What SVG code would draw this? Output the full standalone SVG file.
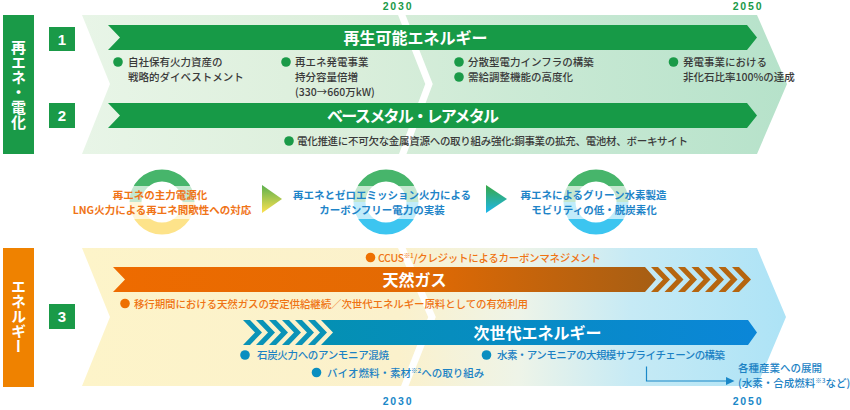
<svg xmlns="http://www.w3.org/2000/svg" width="850" height="410" viewBox="0 0 850 410">
<style>
text{font-family:"Noto Sans CJK JP","Noto Sans",sans-serif;}
.bt{fill:#fff;font-weight:700;font-size:16px;text-anchor:middle;}
.tx{fill:#3a3a3a;font-size:10.5px;font-weight:500;}
.otx{fill:#ef7414;font-size:10.5px;font-weight:500;}
.btx{fill:#1c82c4;font-size:10.5px;font-weight:500;}
.mo{fill:#f07418;font-size:10.5px;font-weight:700;text-anchor:middle;}
.mb{fill:#1e84c8;font-size:10.5px;font-weight:700;text-anchor:middle;}
.gd{fill:#1a9a48;}
.od{fill:#ee7000;}
.bd{fill:#0a8ec0;}
.yrg{fill:#1a9a48;font-family:"Liberation Sans",Arial,sans-serif;font-weight:700;font-size:10.5px;letter-spacing:1.8px;text-anchor:middle;}
.yrb{fill:#1a88c8;font-family:"Liberation Sans",Arial,sans-serif;font-weight:700;font-size:10.5px;letter-spacing:1.8px;text-anchor:middle;}
.num{fill:#fff;font-family:"Liberation Sans",Arial,sans-serif;font-weight:700;font-size:15px;text-anchor:middle;}
.vt{fill:#fff;font-weight:700;font-size:15px;writing-mode:vertical-rl;text-anchor:middle;}
.sep{fill:none;stroke:#fff;stroke-width:7;}
.band{fill:#fff;opacity:0.68;}
.sup{font-size:6.5px;}
</style>
<defs>
<linearGradient id="gTop" x1="0" y1="0" x2="1" y2="0">
<stop offset="0" stop-color="#e8f5e7"/><stop offset="0.35" stop-color="#dcefdc"/><stop offset="0.65" stop-color="#c9e9d4"/><stop offset="1" stop-color="#b6e2ca"/>
</linearGradient>
<linearGradient id="gBot" x1="0" y1="0" x2="1" y2="0">
<stop offset="0" stop-color="#fdf4c9"/><stop offset="0.45" stop-color="#fbf1cc"/><stop offset="0.62" stop-color="#eef4e8"/><stop offset="0.78" stop-color="#c6eaf5"/><stop offset="1" stop-color="#ade3f6"/>
</linearGradient>
<linearGradient id="gOr" gradientUnits="userSpaceOnUse" x1="113" y1="0" x2="657" y2="0">
<stop offset="0" stop-color="#ee6b00"/><stop offset="0.55" stop-color="#e36a03"/><stop offset="1" stop-color="#a65e14"/>
</linearGradient>
<linearGradient id="gBl" gradientUnits="userSpaceOnUse" x1="321" y1="0" x2="757" y2="0">
<stop offset="0" stop-color="#0490b3"/><stop offset="1" stop-color="#0b86d8"/>
</linearGradient>
<linearGradient id="rGY" x1="0" y1="0" x2="0" y2="1">
<stop offset="0.5" stop-color="#47b56b"/><stop offset="0.5" stop-color="#fde38a"/>
</linearGradient>
<linearGradient id="rGC" x1="0" y1="0" x2="0" y2="1">
<stop offset="0.5" stop-color="#47b56b"/><stop offset="0.5" stop-color="#3cc5f0"/>
</linearGradient>
<linearGradient id="tGY" x1="0" y1="0" x2="0" y2="1">
<stop offset="0" stop-color="#5bb04e"/><stop offset="1" stop-color="#fde150"/>
</linearGradient>
<linearGradient id="tGC" x1="0" y1="0" x2="0" y2="1">
<stop offset="0" stop-color="#38a846"/><stop offset="1" stop-color="#1db6ec"/>
</linearGradient>
</defs>

<g id="years">
<text class="yrg" x="398" y="9.5">2030</text>
<text class="yrg" x="748" y="9.5">2050</text>
<text class="yrb" x="398" y="404.5">2030</text>
<text class="yrb" x="748" y="405">2050</text>
</g>

<g id="section-renewable">
<rect x="3" y="15" width="31" height="139" fill="#1a9a48"/>
<text class="vt" x="18.5" y="84.5">再エネ・電化</text>
<polygon points="82,15 757,15 787,84 757,154 82,154 110,84" fill="url(#gTop)"/>
<polyline class="sep" points="401,13 429,84 402,156"/>
</g>

<g id="section-energy">
<rect x="3" y="248" width="31" height="139" fill="#ef8200"/>
<text class="vt" x="18.5" y="316">エネルギー</text>
<polygon points="82,248 757,248 786,317 757,386 82,386 110,317" fill="url(#gBot)"/>
<polyline class="sep" points="401,246 432,317 404,388"/>
</g>

<g id="num1"><rect x="49" y="27" width="26" height="24" fill="#1a9a48"/><text class="num" x="62" y="44.5">1</text></g>
<g id="num2"><rect x="49" y="103" width="26" height="25" fill="#1a9a48"/><text class="num" x="62" y="121">2</text></g>
<g id="num3"><rect x="49" y="304" width="26" height="25" fill="#1a9a48"/><text class="num" x="62" y="322">3</text></g>

<g id="bar-renewable">
<polygon points="108,25 747,25 757,37.5 747,50 108,50 120,37.5" fill="#179a47"/>
<text class="bt" x="415.5" y="43.6">再生可能エネルギー</text>
</g>
<g id="items-renewable">
<circle class="gd" cx="118" cy="62" r="4.8"/>
<text class="tx" x="128" y="66">自社保有火力資産の</text>
<text class="tx" x="128" y="81">戦略的ダイベストメント</text>
<circle class="gd" cx="286" cy="62" r="4.8"/>
<text class="tx" x="295" y="66">再エネ発電事業</text>
<text class="tx" x="295" y="81">持分容量倍増</text>
<text class="tx" x="295" y="95.5">(330→660万kW)</text>
<circle class="gd" cx="459" cy="62" r="4.8"/>
<text class="tx" x="468" y="66">分散型電力インフラの構築</text>
<circle class="gd" cx="459" cy="77" r="4.8"/>
<text class="tx" x="468" y="81">需給調整機能の高度化</text>
<circle class="gd" cx="673.5" cy="62" r="4.8"/>
<text class="tx" x="683" y="66">発電事業における</text>
<text class="tx" x="683" y="81">非化石比率100%の達成</text>
</g>

<g id="bar-metal">
<polygon points="108,103 747,103 757,115.5 747,128 108,128 120,115.5" fill="#179a47"/>
<text class="bt" x="413" y="121.6" textLength="172" lengthAdjust="spacing">ベースメタル・レアメタル</text>
<circle class="gd" cx="289" cy="141" r="4.8"/>
<text class="tx" x="297" y="145" textLength="391" lengthAdjust="spacing">電化推進に不可欠な金属資源への取り組み強化:銅事業の拡充、電池材、ボーキサイト</text>
</g>

<g id="phase1">
<circle cx="162" cy="202" r="26.5" fill="none" stroke="url(#rGY)" stroke-width="12"/>
<rect class="band" x="126" y="186" width="72" height="33"/>
<text class="mo" x="160" y="198.5">再エネの主力電源化</text>
<text class="mo" x="162" y="213.5">LNG火力による再エネ間歇性への対応</text>
</g>
<g id="phase2">
<circle cx="386" cy="202" r="26.5" fill="none" stroke="url(#rGC)" stroke-width="12"/>
<rect class="band" x="350" y="186" width="72" height="33"/>
<text class="mb" x="382" y="198.5">再エネとゼロエミッション火力による</text>
<text class="mb" x="382" y="213.5">カーボンフリー電力の実装</text>
</g>
<g id="phase3">
<circle cx="596" cy="202" r="26.5" fill="none" stroke="url(#rGC)" stroke-width="12"/>
<rect class="band" x="560" y="186" width="72" height="33"/>
<text class="mb" x="593.5" y="198.5">再エネによるグリーン水素製造</text>
<text class="mb" x="594" y="213.5">モビリティの低・脱炭素化</text>
</g>

<g id="bar-gas">
<polygon points="113,267 645,267 656,279.5 645,292 113,292 125,279.5" fill="url(#gOr)"/>
<g fill="#b5650f">
<polygon points="651,267 658,267 670,279.5 658,292 651,292 663,279.5"/>
<polygon points="664.5,267 671.5,267 683.5,279.5 671.5,292 664.5,292 676.5,279.5"/>
<polygon points="678,267 685,267 697,279.5 685,292 678,292 690,279.5"/>
<polygon points="691.5,267 698.5,267 710.5,279.5 698.5,292 691.5,292 703.5,279.5"/>
<polygon points="705,267 712,267 724,279.5 712,292 705,292 717,279.5"/>
<polygon points="718.5,267 725.5,267 737.5,279.5 725.5,292 718.5,292 730.5,279.5"/>
<polygon points="732,267 739,267 751,279.5 739,292 732,292 744,279.5"/>
</g>
<text class="bt" x="414.5" y="285.6">天然ガス</text>
</g>
<g id="items-gas">
<circle class="od" cx="370.5" cy="257.5" r="4.8"/>
<text class="otx" x="378" y="261.5" letter-spacing="-0.3">CCUS<tspan class="sup" dy="-4">※1</tspan><tspan dy="4">/クレジットによるカーボンマネジメント</tspan></text>
<circle class="od" cx="125" cy="303.5" r="4.8"/>
<text class="otx" x="134" y="307.5" textLength="394" lengthAdjust="spacing">移行期間における天然ガスの安定供給継続／次世代エネルギー原料としての有効利用</text>
</g>

<g id="bar-nextgen">
<g fill="#0a93b7">
<polygon points="243,320 250,320 262,332.5 250,345 243,345 255,332.5"/>
<polygon points="256,320 263,320 275,332.5 263,345 256,345 268,332.5"/>
<polygon points="269,320 276,320 288,332.5 276,345 269,345 281,332.5"/>
<polygon points="282,320 289,320 301,332.5 289,345 282,345 294,332.5"/>
<polygon points="295,320 302,320 314,332.5 302,345 295,345 307,332.5"/>
<polygon points="308,320 315,320 327,332.5 315,345 308,345 320,332.5"/>
</g>
<polygon points="321,320 748,320 757,332.5 748,345 321,345 333,332.5" fill="url(#gBl)"/>
<text class="bt" x="537.5" y="338.6">次世代エネルギー</text>
</g>
<g id="items-nextgen">
<circle class="bd" cx="245" cy="355" r="4.8"/>
<text class="btx" x="257" y="359" textLength="132" lengthAdjust="spacing">石炭火力へのアンモニア混焼</text>
<circle class="bd" cx="316.5" cy="372.5" r="4.8"/>
<text class="btx" x="327" y="376.5">バイオ燃料・素材<tspan class="sup" dy="-4">※2</tspan><tspan dy="4">への取り組み</tspan></text>
<circle class="bd" cx="486.5" cy="355" r="4.8"/>
<text class="btx" x="497" y="359" textLength="228" lengthAdjust="spacing">水素・アンモニアの大規模サプライチェーンの構築</text>
<text class="btx" x="738" y="372">各種産業への展開</text>
<text class="btx" x="738" y="387">(水素・合成燃料<tspan class="sup" dy="-4">※3</tspan><tspan dy="4">など)</tspan></text>
</g>

<g id="connectors">
<polygon points="262,185 282,199 262,213" fill="url(#tGY)"/>
<polygon points="486,185 507,199 486,213" fill="url(#tGC)"/>
<polyline points="646.5,366.5 646.5,381 727,381" fill="none" stroke="#1a88c8" stroke-width="1.2"/>
<polygon points="726,377 734.5,381 726,385" fill="#1a88c8"/>
</g>
</svg>
